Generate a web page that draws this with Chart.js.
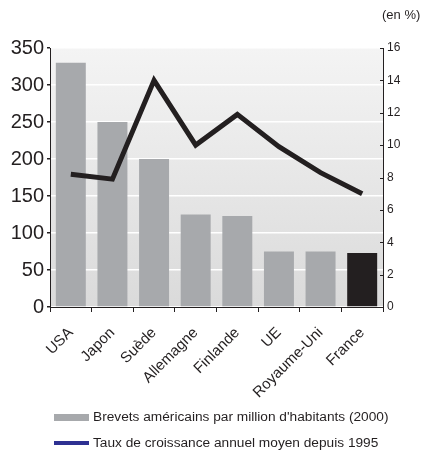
<!DOCTYPE html>
<html>
<head>
<meta charset="utf-8">
<script src="https://cdn.jsdelivr.net/npm/chart.js@4"></script>
<style>
  body { margin: 0; background: #fff; font-family: "Liberation Sans", Arial, sans-serif; color: #231f20; }
  #wrap { position: relative; width: 423px; height: 453px; }
  .note { position: absolute; font-size: 13.7px; white-space: nowrap; }
  .key { position: absolute; left: 54px; width: 35px; }
</style>
</head>
<body>
<div id="wrap">
  <canvas id="chart" width="423" height="453"></canvas>
  <div class="note" style="left:382px; top:7px; font-size:13px;">(en %)</div>
  <div class="key" style="top:414px; height:7px; background:#a7a9ac;"></div>
  <div class="note" style="left:93px; top:409px;">Brevets américains par million d'habitants (2000)</div>
  <div class="key" style="top:441px; height:4px; background:#2e3192;"></div>
  <div class="note" style="left:93px; top:435px;">Taux de croissance annuel moyen depuis 1995</div>
</div>
<script>
// pays et valeurs
const countries = ['USA', 'Japon', 'Suède', 'Allemagne', 'Finlande', 'UE', 'Royaume-Uni', 'France'];
const patents = [330, 250, 200, 125, 123, 75, 75, 73];
const growth = [8.2, 7.9, 14.0, 10.0, 11.9, 9.9, 8.3, 7.0];
const barColors = ['#a7a9ac', '#a7a9ac', '#a7a9ac', '#a7a9ac', '#a7a9ac', '#a7a9ac', '#a7a9ac', '#231f20'];

const ink = '#231f20';

// fond dégradé de la zone de tracé
const backdrop = {
    id: 'backdrop',
    beforeDraw(chart) {
        const { ctx, chartArea: a } = chart;
        const g = ctx.createLinearGradient(0, a.top, 0, a.bottom);
        g.addColorStop(0, '#f4f4f4');
        g.addColorStop(1, '#dadada');
        ctx.save();
        ctx.fillStyle = g;
        ctx.fillRect(a.left, a.top, a.right - a.left, a.bottom - a.top);
        ctx.restore();
    }
};

// petites graduations vers l'intérieur sur l'axe de droite
const innerTicks = {
    id: 'innerTicks',
    afterDraw(chart) {
        const s = chart.scales.y1;
        const ctx = chart.ctx;
        ctx.save();
        ctx.strokeStyle = ink;
        ctx.lineWidth = 1;
        s.ticks.forEach(t => {
            const y = Math.round(s.getPixelForValue(t.value)) + 0.5;
            ctx.beginPath();
            ctx.moveTo(s.left - 3, y);
            ctx.lineTo(s.left, y);
            ctx.stroke();
        });
        ctx.restore();
    }
};

new Chart(document.getElementById('chart'), {
    data: {
        labels: countries,
        datasets: [
            {
                type: 'line',
                label: 'Taux de croissance annuel moyen depuis 1995',
                data: growth,
                yAxisID: 'y1',
                borderColor: ink,
                borderWidth: 5,
                pointRadius: 0,
                tension: 0,
                order: 0
            },
            {
                type: 'bar',
                label: "Brevets américains par million d'habitants (2000)",
                data: patents,
                yAxisID: 'y',
                backgroundColor: barColors,
                barPercentage: 0.72,
                categoryPercentage: 1,
                order: 1
            }
        ]
    },
    options: {
        responsive: false,
        animation: false,
        layout: { padding: { top: 48, left: 0, right: 0, bottom: 0 } },
        plugins: { legend: { display: false }, tooltip: { enabled: false } },
        scales: {
            x: {
                offset: true,
                grid: { drawOnChartArea: false, tickLength: 5, tickColor: ink },
                border: { color: ink, width: 1 },
                ticks: {
                    color: ink,
                    font: { family: 'Liberation Sans', size: 15 },
                    minRotation: 45,
                    maxRotation: 45,
                    padding: 12
                },
                afterFit(s) { s.height = 146; }
            },
            y: {
                position: 'left',
                min: 0,
                max: 350,
                ticks: {
                    stepSize: 50,
                    color: ink,
                    padding: 3,
                    font: { family: 'Liberation Sans', size: 20 }
                },
                grid: { color: '#ffffff', lineWidth: 1.5, tickLength: 3, tickColor: ink },
                border: { color: ink, width: 1 },
                afterFit(s) { s.width = 50; }
            },
            y1: {
                position: 'right',
                min: 0,
                max: 16,
                ticks: {
                    stepSize: 2,
                    color: ink,
                    padding: 4,
                    font: { family: 'Liberation Sans', size: 12 }
                },
                grid: { drawOnChartArea: false, drawTicks: false },
                border: { color: ink, width: 1 },
                afterFit(s) { s.width = 40; }
            }
        }
    },
    plugins: [backdrop, innerTicks]
});
</script>
</body>
</html>
